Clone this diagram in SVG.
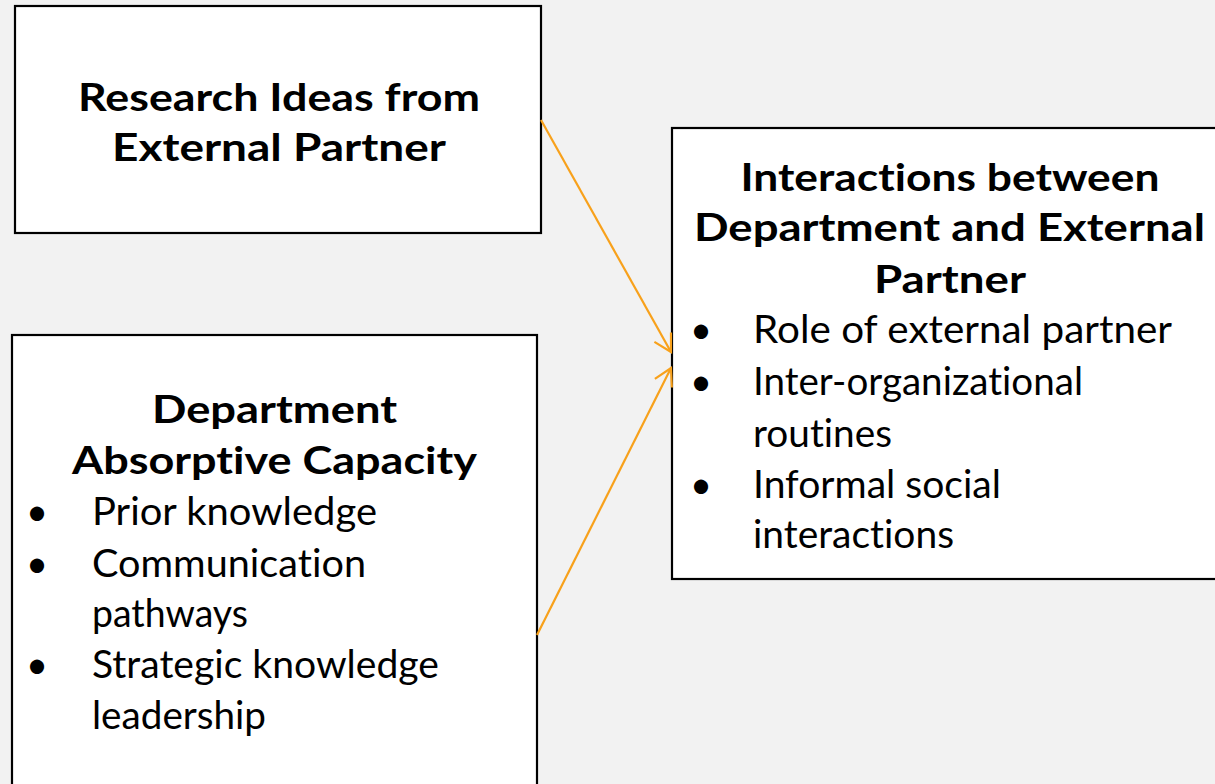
<svg xmlns="http://www.w3.org/2000/svg" width="1215" height="784" viewBox="0 0 1215 784">
<style>
.box{fill:#ffffff;stroke:#000000;stroke-width:2.2}
.h{font-family:Lato,"Open Sans","Liberation Sans",sans-serif;font-weight:bold;font-size:38px;fill:#000;font-variant-ligatures:none;font-feature-settings:"liga" 0,"clig" 0,"dlig" 0}
.t{font-family:Lato,"Open Sans","Liberation Sans",sans-serif;font-size:38px;fill:#000;font-variant-ligatures:none;font-feature-settings:"liga" 0,"clig" 0,"dlig" 0}
.b{font-family:Lato,"Liberation Sans",sans-serif;font-size:38px;fill:#000;text-anchor:middle}
.c{text-anchor:middle}
.conn{stroke:#F8A11B;stroke-width:2.2;fill:none}
</style>
<defs>
<marker id="arr" markerUnits="userSpaceOnUse" markerWidth="24" markerHeight="24" refX="17" refY="9.5" orient="auto" overflow="visible">
<path d="M0,0 L17,9.5 L0,19" fill="none" stroke="#F8A11B" stroke-width="2.2"/>
</marker>
</defs>
<rect x="0" y="0" width="1215" height="784" fill="#F2F2F2"/>
<g id="node-research">
<rect class="box" x="15" y="6" width="526" height="227"/>
<text class="h c" x="279" y="111" textLength="402" lengthAdjust="spacingAndGlyphs">Research Ideas from</text>
<text class="h c" x="279" y="161" textLength="334" lengthAdjust="spacingAndGlyphs">External Partner</text>
</g>
<g id="node-absorptive">
<rect class="box" x="12" y="335" width="525" height="470"/>
<text class="h c" x="274.5" y="423" textLength="245" lengthAdjust="spacingAndGlyphs">Department</text>
<text class="h c" x="274.5" y="474" textLength="405" lengthAdjust="spacingAndGlyphs">Absorptive Capacity</text>
<text class="b" x="37" y="525">•</text>
<text class="t" x="92" y="525" textLength="285" lengthAdjust="spacingAndGlyphs">Prior knowledge</text>
<text class="b" x="37" y="577">•</text>
<text class="t" x="92" y="577" textLength="274" lengthAdjust="spacingAndGlyphs">Communication</text>
<text class="t" x="92" y="627" textLength="156" lengthAdjust="spacingAndGlyphs">pathways</text>
<text class="b" x="37" y="678">•</text>
<text class="t" x="92" y="678" textLength="347" lengthAdjust="spacingAndGlyphs">Strategic knowledge</text>
<text class="t" x="92" y="729" textLength="174" lengthAdjust="spacingAndGlyphs">leadership</text>
</g>
<g id="node-interactions">
<rect class="box" x="672" y="128" width="560" height="451"/>
<text class="h c" x="950" y="191" textLength="419" lengthAdjust="spacingAndGlyphs">Interactions between</text>
<text class="h c" x="949.5" y="241" textLength="511" lengthAdjust="spacingAndGlyphs">Department and External</text>
<text class="h c" x="950" y="293" textLength="152" lengthAdjust="spacingAndGlyphs">Partner</text>
<text class="b" x="701" y="343">•</text>
<text class="t" x="753" y="343" textLength="419" lengthAdjust="spacingAndGlyphs">Role of external partner</text>
<text class="b" x="701" y="395">•</text>
<text class="t" x="753" y="395" textLength="330" lengthAdjust="spacingAndGlyphs">Inter-organizational</text>
<text class="t" x="753" y="447" textLength="139" lengthAdjust="spacingAndGlyphs">routines</text>
<text class="b" x="701" y="498">•</text>
<text class="t" x="753" y="498" textLength="248" lengthAdjust="spacingAndGlyphs">Informal social</text>
<text class="t" x="753" y="548" textLength="201" lengthAdjust="spacingAndGlyphs">interactions</text>
</g>
<g id="connectors">
<line class="conn" x1="541" y1="120" x2="671" y2="352" marker-end="url(#arr)"/>
<line class="conn" x1="537" y1="635" x2="671" y2="368" marker-end="url(#arr)"/>
</g>
</svg>
